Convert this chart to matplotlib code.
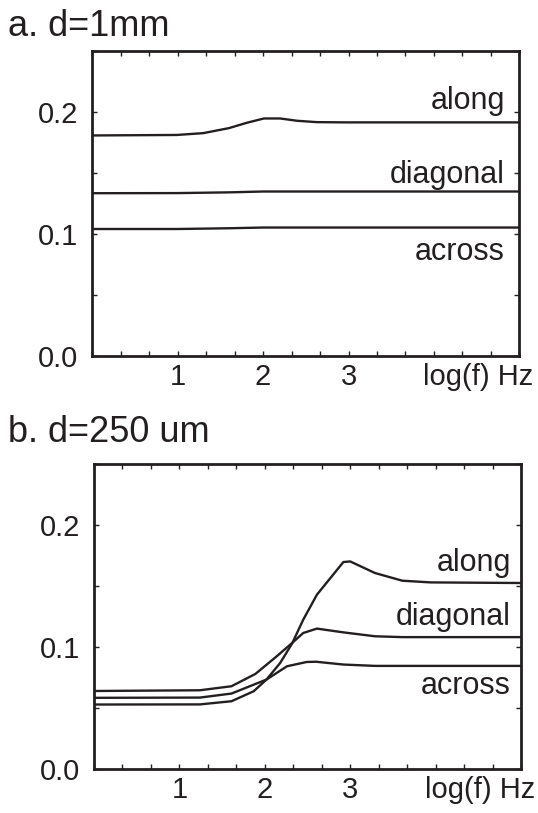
import matplotlib
matplotlib.use("Agg")
import matplotlib.pyplot as plt
from matplotlib.ticker import MultipleLocator, FixedLocator
import numpy as np

plt.rcParams['font.family'] = ['Liberation Sans', 'DejaVu Sans']
INK = '#231f20'

# ---- Panel a: d = 1 mm ----
a_along_x = [0.0, 0.99, 1.30, 1.60, 1.81, 2.01, 2.20, 2.40, 2.63, 2.99, 5.0]
a_along_y = [0.1806, 0.1810, 0.1825, 0.1866, 0.1910, 0.1945, 0.1945, 0.1926, 0.1915, 0.1913, 0.1913]
a_diag_x = [0.0, 1.0, 1.6, 2.0, 2.6, 5.0]
a_diag_y = [0.1333, 0.1334, 0.1340, 0.1347, 0.1347, 0.1347]
a_across_x = [0.0, 1.0, 1.6, 2.0, 2.6, 5.0]
a_across_y = [0.1040, 0.1040, 0.1046, 0.1052, 0.1052, 0.1052]

# ---- Panel b: d = 250 um ----
b_along_x = [0.0, 1.24, 1.61, 1.87, 2.02, 2.18, 2.32, 2.45, 2.61, 2.92, 3.00, 3.29, 3.61, 3.94, 5.0]
b_along_y = [0.0529, 0.0530, 0.0556, 0.0638, 0.0734, 0.0870, 0.1030, 0.1225, 0.1430, 0.1698, 0.1703, 0.1608, 0.1545, 0.1531, 0.1526]
b_diag_x = [0.0, 1.24, 1.61, 1.89, 2.14, 2.32, 2.45, 2.61, 2.92, 3.29, 3.61, 5.0]
b_diag_y = [0.0640, 0.0646, 0.0679, 0.0780, 0.0925, 0.1034, 0.1116, 0.1152, 0.1121, 0.1089, 0.1082, 0.1082]
b_across_x = [0.0, 1.24, 1.61, 2.02, 2.26, 2.49, 2.60, 2.92, 3.29, 5.0]
b_across_y = [0.0584, 0.0586, 0.0619, 0.0734, 0.0843, 0.0878, 0.0880, 0.0857, 0.0846, 0.0846]

x_ticks = [1, 2, 3]
x_ticklabels = ['1', '2', '3']
x_unit_label = 'log(f) Hz'
x_unit_pos = 4.52
y_ticks = [0.0, 0.1, 0.2]
y_ticklabels = ['0.0', '0.1', '0.2']
series_names = ['along', 'diagonal', 'across']

panel_titles = ['a. d=1mm', 'b. d=250 um']

fig = plt.figure(figsize=(5.38, 8.13), dpi=100)

ax_a = fig.add_axes([92.3/538, 1-356/813, 427/538, 305.3/813])
ax_b = fig.add_axes([94/538, 1-769/813, 427/538, 304.7/813])

def style(ax):
    ax.set_xlim(0, 5)
    ax.set_ylim(0, 0.25)
    for s in ax.spines.values():
        s.set_linewidth(2.0)
        s.set_color(INK)
    ax.xaxis.set_major_locator(FixedLocator(x_ticks))
    ax.xaxis.set_minor_locator(MultipleLocator(1/3))
    ax.yaxis.set_major_locator(FixedLocator(y_ticks))
    ax.yaxis.set_minor_locator(MultipleLocator(0.05))
    ax.set_xticklabels(x_ticklabels)
    ax.set_yticklabels(y_ticklabels)
    ax.tick_params(which='both', direction='in', top=True, right=True,
                   length=3.5, width=1.0, color=INK, labelcolor=INK)
    ax.tick_params(axis='y', which='major', labelsize=21, pad=10)
    ax.tick_params(axis='x', which='major', labelsize=21, pad=5)
    ax.annotate(x_unit_label, xy=(x_unit_pos, 0), xycoords=ax.get_xaxis_transform(),
                xytext=(0, -5), textcoords='offset points',
                ha='center', va='top', fontsize=21, color=INK, annotation_clip=False)

for ax in (ax_a, ax_b):
    style(ax)

lw = 1.7
ax_a.plot(a_along_x, a_along_y, color=INK, lw=lw)
ax_a.plot(a_diag_x, a_diag_y, color=INK, lw=lw)
ax_a.plot(a_across_x, a_across_y, color=INK, lw=lw)
ax_b.plot(b_along_x, b_along_y, color=INK, lw=lw)
ax_b.plot(b_diag_x, b_diag_y, color=INK, lw=lw)
ax_b.plot(b_across_x, b_across_y, color=INK, lw=lw)

a_label_y = [0.2022, 0.1415, 0.0787]
b_label_y = [0.1627, 0.1179, 0.0616]
for name, yv in zip(series_names, a_label_y):
    ax_a.text(4.83, yv, name, ha='right', va='baseline', fontsize=22, color=INK)
for name, yv in zip(series_names, b_label_y):
    ax_b.text(4.88, yv, name, ha='right', va='baseline', fontsize=22, color=INK)

fig.text(8/538, 1-36.5/813, panel_titles[0], ha='left', va='baseline', fontsize=26, color=INK)
fig.text(8/538, 1-441.7/813, panel_titles[1], ha='left', va='baseline', fontsize=26, color=INK)

fig.savefig('out.png', dpi=100)
